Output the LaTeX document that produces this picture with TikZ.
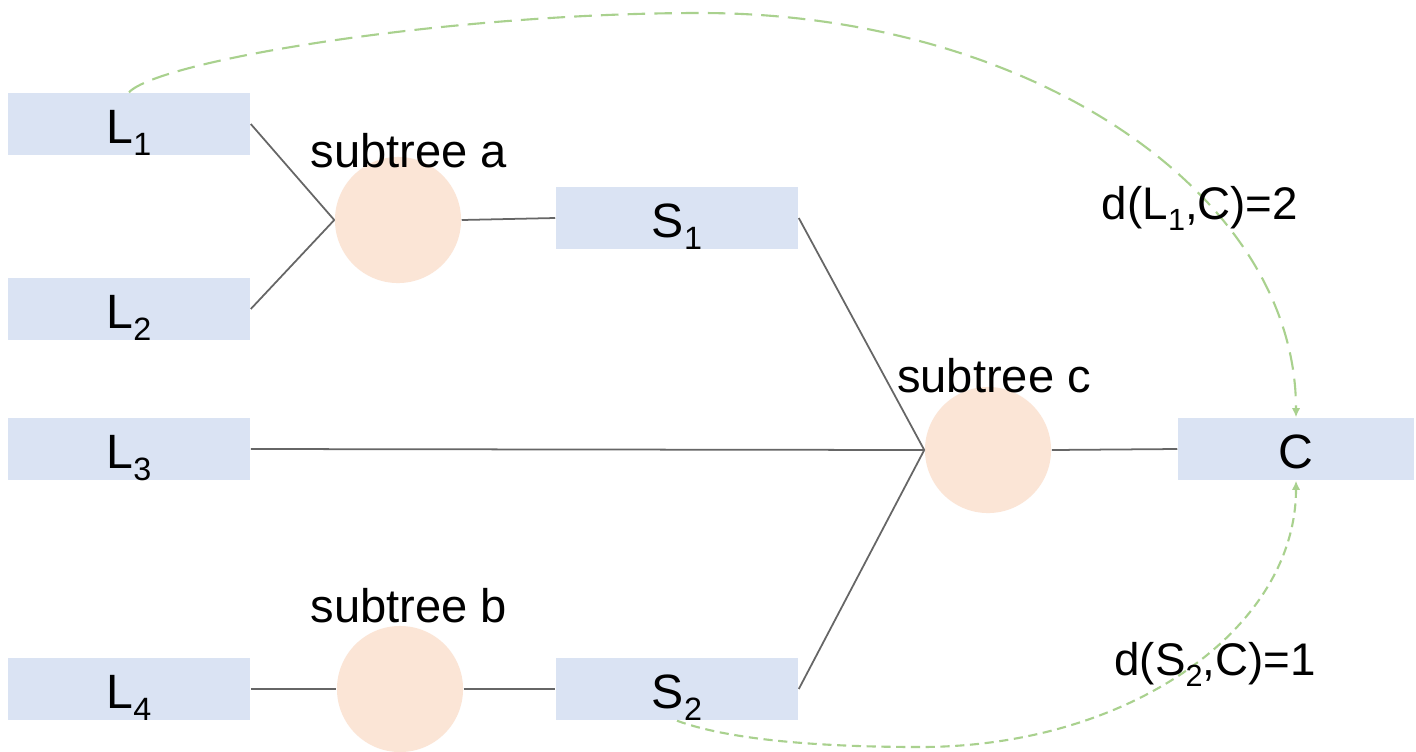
\documentclass[tikz,border=0pt]{standalone}
\usepackage{fontspec}
\usepackage{graphicx}
\setmainfont{Liberation Sans}
\usetikzlibrary{arrows.meta}

\definecolor{boxblue}{HTML}{DAE3F3}
\definecolor{peach}{HTML}{FBE5D6}
\definecolor{linegray}{HTML}{666666}
\definecolor{dashgreen}{HTML}{A9D18E}

% lowered index digit, as in L_1
\newcommand{\idx}[1]{\raisebox{-0.25em}{\scalebox{0.67}{#1}}}

\tikzset{
  leaf/.style={rectangle, fill=boxblue, minimum width=2.42cm, minimum height=0.62cm,
    inner sep=0pt, text height=0.45cm, text depth=0.07cm,
    font=\fontsize{13.7pt}{16pt}\selectfont},
  blob/.style={circle, fill=peach, minimum size=1.26cm, inner sep=0pt},
  tag/.style={anchor=base, inner sep=0pt, font=\fontsize{13.4pt}{15pt}\selectfont},
  dist/.style={anchor=base, inner sep=0pt, font=\fontsize{13pt}{15pt}\selectfont},
  wire/.style={draw=linegray, line width=0.5pt},
  hop/.style={draw=dashgreen, line width=0.6pt, -{Latex[length=2.6pt,width=2.4pt]}},
}

\begin{document}
\begin{tikzpicture}[x=0.01cm, y=-0.01cm]
  \useasboundingbox[fill=white] (0,0) rectangle (1416,751);

  % leaves, summaries and the root
  \node[leaf] (L1) at (129,124) {L\idx{1}};
  \node[leaf] (L2) at (129,309) {L\idx{2}};
  \node[leaf] (L3) at (129,449) {L\idx{3}};
  \node[leaf] (L4) at (129,689) {L\idx{4}};
  \node[leaf] (S1) at (677,218) {S\idx{1}};
  \node[leaf] (S2) at (677,689) {S\idx{2}};
  \node[leaf, minimum width=2.36cm] (C) at (1296,449) {C};

  % subtrees
  \node[blob] (ca) at (398,220) {};
  \node[blob] (cb) at (400,689) {};
  \node[blob] (cc) at (988,450) {};

  % tree edges
  \draw[wire] (L1.east) -- (ca.west);
  \draw[wire] (L2.east) -- (ca.west);
  \draw[wire] (ca.east) -- (S1.west);
  \draw[wire] (L4.east) -- (cb.west);
  \draw[wire] (cb.east) -- (S2.west);
  \draw[wire] (S1.east) -- (cc.west);
  \draw[wire] (L3.east) -- (cc.west);
  \draw[wire] (S2.east) -- (cc.west);
  \draw[wire] (cc.east) -- (C.west);

  % distance arcs
  \draw[hop, dash pattern=on 5pt off 2.6pt]
    (L1.north) .. controls (160,60) and (450,13) .. (700,13)
               .. controls (1031,13) and (1296,194) .. (C.north);
  \draw[hop, dash pattern=on 2.6pt off 1.6pt]
    (S2.south) .. controls (730,740) and (820,747) .. (920,747)
               .. controls (1129,747) and (1296,629) .. (C.south);

  % labels
  \node[tag] (ta) at (409,167) {subtree a};
  \node[tag] (tb) at (409,622) {subtree b};
  \node[tag] (tc) at (994,392) {subtree c};
  \node[dist] (d1) at (1200,219) {d(L\idx{1},C)=2};
  \node[dist] (d2) at (1215,675) {d(S\idx{2},C)=1};
\end{tikzpicture}
\end{document}
